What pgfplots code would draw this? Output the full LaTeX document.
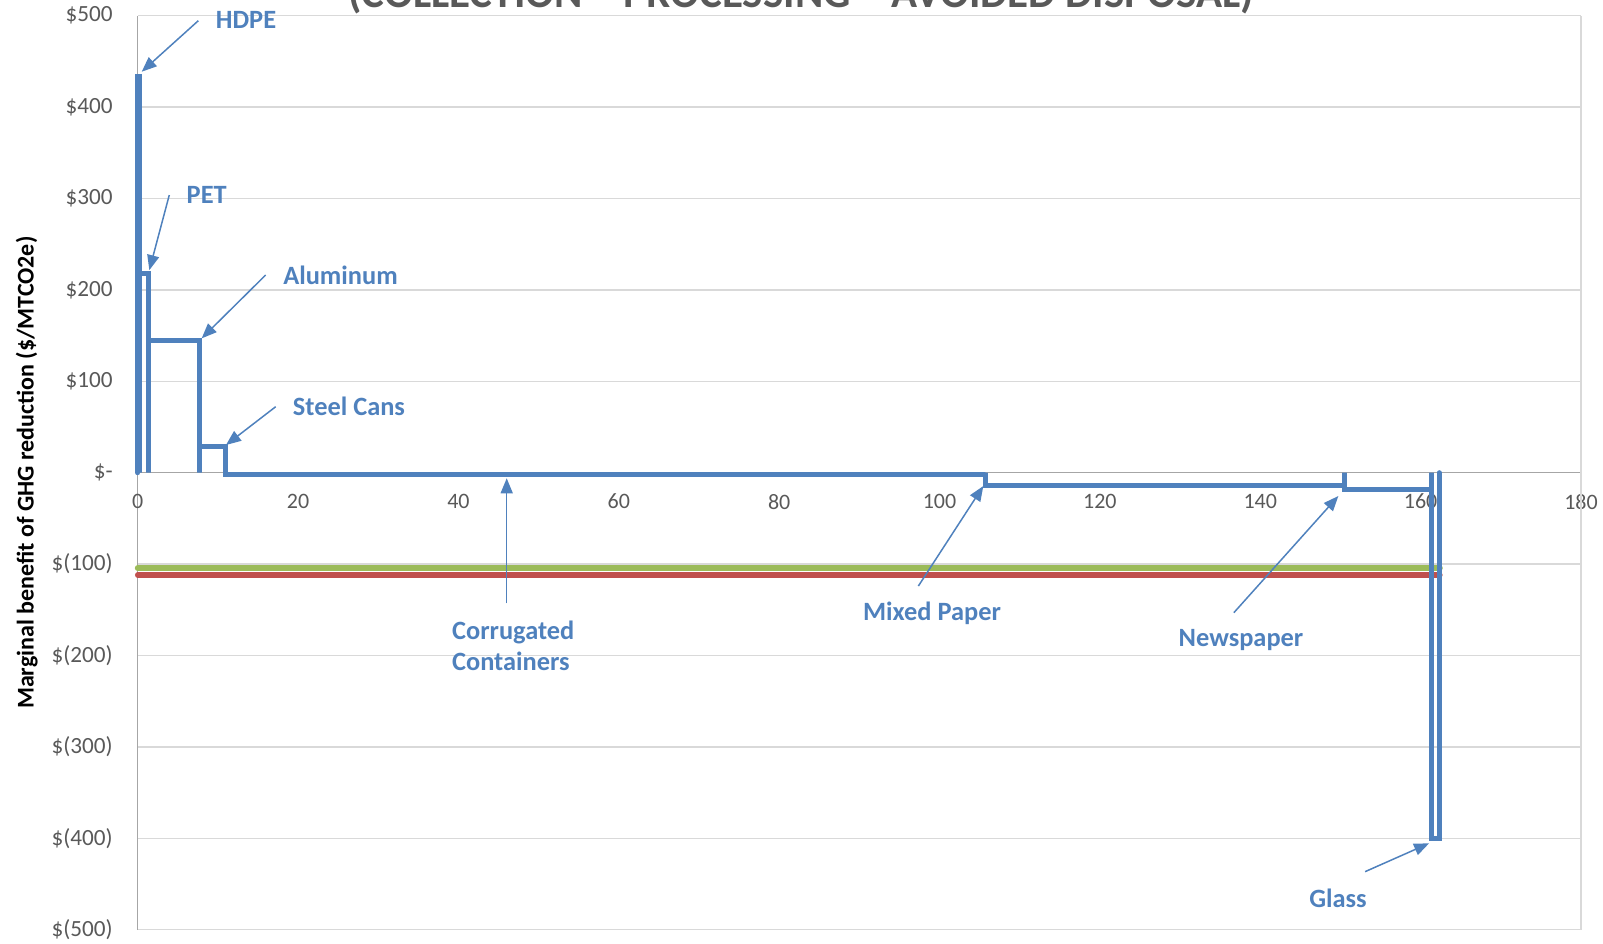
\documentclass[border=0pt]{standalone}
\usepackage{fontspec}
\setmainfont{Carlito}
\usepackage{pgfplots}
\pgfplotsset{compat=1.18}
\usetikzlibrary{arrows.meta}

\definecolor{xlblue}{HTML}{4F81BD}
\definecolor{xlgreen}{HTML}{9BBB59}
\definecolor{xlred}{HTML}{C0504D}
\definecolor{gridgrey}{HTML}{D9D9D9}
\definecolor{axisgrey}{HTML}{A6A6A6}
\definecolor{txtgrey}{HTML}{595959}

\begin{document}
\begin{tikzpicture}[
  lbl/.style={font=\fontsize{13.2}{15.8}\selectfont\bfseries, text=xlblue, inner sep=0pt},
  arr/.style={draw=xlblue, line width=0.75pt, -{Triangle[length=7.5pt,width=6pt]}}
]
\begin{axis}[
  scale only axis,
  width=721.65pt, height=457pt,
  xmin=0, xmax=180, ymin=-500, ymax=500,
  clip=false,
  axis x line=middle, axis y line=left,
  axis line style={draw=axisgrey, line width=0.75pt, -},
  hide obscured x ticks=false,
  major tick length=0pt,
  xtick={0,20,...,180},
  ytick={-500,-400,...,500},
  yticklabels={\$(500),\$(400),\$(300),\$(200),\$(100),\$-,\$100,\$200,\$300,\$400,\$500},
  /pgf/number format/assume math mode=true,
  ticklabel style={text=txtgrey, inner sep=0pt},
  xticklabel style={font=\fontsize{11}{13}\selectfont, anchor=north, yshift=-10.5pt},
  yticklabel style={font=\fontsize{11.6}{13}\selectfont, anchor=east, xshift=-12.3pt},
  ymajorgrids,
  grid style={draw=gridgrey, line width=0.75pt},
  every axis y label/.style={at={(rel axis cs:0,0.5)}, xshift=-55.5pt, rotate=90, anchor=center},
  ylabel={\fontsize{12}{14}\selectfont\bfseries Marginal benefit of GHG reduction (\$/MTCO2e)},
]
\coordinate (sw) at (rel axis cs:0,0);
\coordinate (ne) at (rel axis cs:1,1);
\draw[gridgrey, line width=0.75pt] (rel axis cs:1,0) -- (rel axis cs:1,1);

\addplot[xlgreen, line width=2.9pt, line cap=round] coordinates {(0,-104.6) (162.4,-104.6)};
\addplot[xlred, line width=2.7pt, line cap=round] coordinates {(0,-112) (162.4,-112)};

\addplot[xlblue, line width=2.5pt, line cap=round, line join=miter] coordinates {
  (0,0) (0,433) (0.2,433) (0.2,0)
  (0.2,218) (1.3,218) (1.3,0)
  (1.3,145) (7.65,145) (7.65,0)
  (7.65,28.5) (10.9,28.5) (10.9,0)
  (10.9,-2.5) (105.7,-2.5) (105.7,0)
  (105.7,-14.5) (150.5,-14.5) (150.5,0)
  (150.5,-18) (161.4,-18) (161.4,0)
  (161.4,-400) (162.3,-400) (162.3,0)
};

\node[overlay, anchor=base, font=\fontsize{21.5}{24}\selectfont\bfseries, text=txtgrey, inner sep=0pt]
  at ([yshift=3.85pt]rel axis cs:0.4596,1) {(COLLECTION – PROCESSING – AVOIDED DISPOSAL)};

\node[lbl] at (axis cs:13.51,495) {HDPE};
\draw[arr] (axis cs:7.56,494.5) -- (axis cs:0.5,438.7);
\node[lbl] at (axis cs:8.61,303.8) {PET};
\draw[arr] (axis cs:3.94,303.8) -- (axis cs:1.45,221.6);
\node[lbl] at (axis cs:25.29,216.3) {Aluminum};
\draw[arr] (axis cs:15.96,216.3) -- (axis cs:7.98,147);
\node[lbl] at (axis cs:26.35,73) {Steel Cans};
\draw[arr] (axis cs:17.21,72.2) -- (axis cs:11.01,30.3);
\node[lbl, anchor=west, align=left] at (axis cs:39.16,-189.4) {Corrugated\\Containers};
\draw[arr] (axis cs:46.02,-142.9) -- (axis cs:46.02,-6.1);
\node[lbl] at (axis cs:99.06,-153.8) {Mixed Paper};
\draw[arr] (axis cs:97.36,-124) -- (axis cs:105.46,-14.6);
\node[lbl] at (axis cs:137.6,-183) {Newspaper};
\draw[arr] (axis cs:136.7,-153.2) -- (axis cs:149.74,-25.5);
\node[lbl] at (axis cs:149.7,-465.3) {Glass};
\draw[arr] (axis cs:153.07,-436.5) -- (axis cs:161.05,-405.5);
\end{axis}
\pgfresetboundingbox
\path[use as bounding box] ([xshift=-68.85pt,yshift=-6.65pt]sw) rectangle ([xshift=11pt,yshift=7.85pt]ne);
\end{tikzpicture}
\end{document}
